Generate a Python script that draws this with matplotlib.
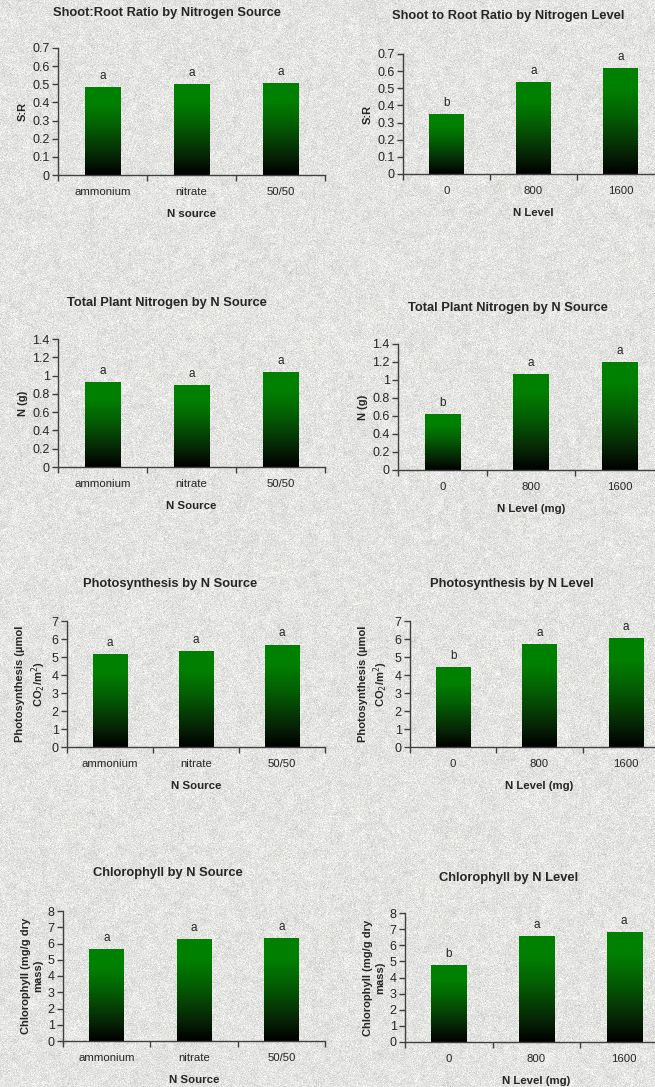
import numpy as np
import matplotlib
matplotlib.use("Agg")
import matplotlib.pyplot as plt
from matplotlib.colors import LinearSegmentedColormap

plt.rcParams['font.family'] = ['Liberation Sans', 'DejaVu Sans']

# --- data ---
sources = ['ammonium', 'nitrate', '50/50']
levels = ['0', '800', '1600']

sr_by_source = [0.485, 0.503, 0.508]
sr_by_level = [0.349, 0.536, 0.618]
n_by_source = [0.927, 0.898, 1.037]
n_by_level = [0.622, 1.067, 1.200]
ps_by_source = [5.15, 5.32, 5.69]
ps_by_level = [4.43, 5.71, 6.04]
chl_by_source = [5.64, 6.26, 6.32]
chl_by_level = [4.78, 6.59, 6.84]

letters_source = ['a', 'a', 'a']
letters_level = ['b', 'a', 'a']

W, H = 655, 1087
fig = plt.figure(figsize=(W / 100, H / 100), dpi=100)

# speckled grey paper background
rng = np.random.default_rng(7)
grain = rng.normal(0.0, 1.0, (H, W))
blot = rng.normal(0.0, 1.0, (H // 6 + 1, W // 6 + 1))
blot = np.kron(blot, np.ones((6, 6)))[:H, :W]
k = np.ones(5) / 5
blot = np.apply_along_axis(lambda r: np.convolve(r, k, mode='same'), 1, blot)
blot = np.apply_along_axis(lambda c: np.convolve(c, k, mode='same'), 0, blot)
tex = 0.895 + 0.04 * grain + 0.012 * blot
bg = np.dstack([tex, tex, tex * 0.99]).clip(0, 1)
bgax = fig.add_axes([0, 0, 1, 1], zorder=-10)
bgax.imshow(bg, aspect='auto', interpolation='nearest')
bgax.axis('off')

green_fade = LinearSegmentedColormap.from_list(
    'green_fade', [(0.0, '#000000'), (0.2, '#062406'), (0.55, '#035f03'),
                   (0.8, '#018001'), (1.0, '#008000')])

ink = '#262626'


def px_axes(left, right, top, bottom):
    return fig.add_axes([left / W, 1 - bottom / H, (right - left) / W, (bottom - top) / H])


def panel(box, cats, vals, letters, ymax, ystep, yfmt, ylabel, xlabel,
          title, title_xy, ylabel_pad):
    ax = px_axes(*box)
    ax.patch.set_alpha(0)
    x = np.arange(len(cats))
    bars = ax.bar(x, vals, width=0.4, color='none', edgecolor='none')
    grad = np.linspace(1, 0, 256).reshape(-1, 1)
    for b in bars:
        x0, h = b.get_x(), b.get_height()
        im = ax.imshow(grad, extent=[x0, x0 + b.get_width(), 0, h], aspect='auto',
                       cmap=green_fade, vmin=0, vmax=1, zorder=2)
        im.set_clip_path(b)
    for xi, v, lt in zip(x, vals, letters):
        ax.annotate(lt, (xi, v), xytext=(0, 8), textcoords='offset points',
                    ha='center', va='center', fontsize=8.5, color=ink)
    ax.set_xlim(-0.5, len(cats) - 0.5)
    ax.set_ylim(0, ymax)
    yt = np.arange(0, ymax + ystep / 2, ystep)
    ax.set_yticks(yt)
    ax.set_yticklabels([yfmt(v) for v in yt], fontsize=9, color=ink)
    ax.set_xticks(x)
    ax.set_xticklabels(cats, fontsize=8.2, color=ink)
    ax.set_xticks(np.arange(-0.5, len(cats)), minor=True)
    ax.tick_params(axis='x', which='major', length=0, pad=8.5)
    ax.tick_params(axis='x', which='minor', length=4, width=1, color='#404040', direction='out')
    ax.tick_params(axis='y', length=4, width=1, color='#404040', direction='out', pad=2)
    for s in ('top', 'right'):
        ax.spines[s].set_visible(False)
    for s in ('left', 'bottom'):
        ax.spines[s].set_color('#404040')
        ax.spines[s].set_linewidth(1)
    ax.set_xlabel(xlabel, fontsize=8.2, fontweight='bold', color=ink, labelpad=9)
    ax.set_ylabel(ylabel, fontsize=8, fontweight='bold', color=ink,
                  labelpad=ylabel_pad, linespacing=1.3)
    fig.text(title_xy[0] / W, 1 - title_xy[1] / H, title, ha='center', va='center',
             fontsize=9.3, fontweight='bold', color=ink)
    return ax


f1 = lambda v: f'{v:.1f}'.rstrip('0').rstrip('.') if v else '0'
f2 = lambda v: f'{v:.0f}'

ps_label = 'Photosynthesis (\u00b5mol\nCO$_2$/m$^2$)'
chl_label = 'Chlorophyll (mg/g dry\nmass)'

panel((58, 325, 48, 175), sources, sr_by_source, letters_source, 0.7, 0.1, f1,
      'S:R', 'N source', 'Shoot:Root Ratio by Nitrogen Source', (167, 13), 3)
panel((403, 664, 54, 174), levels, sr_by_level, letters_level, 0.7, 0.1, f1,
      'S:R', 'N Level', 'Shoot to Root Ratio by Nitrogen Level', (508, 16), 3)
panel((58, 325, 339, 467), sources, n_by_source, letters_source, 1.4, 0.2, f1,
      'N (g)', 'N Source', 'Total Plant Nitrogen by N Source', (167, 303), 3)
panel((398, 664, 344, 470), levels, n_by_level, letters_level, 1.4, 0.2, f1,
      'N (g)', 'N Level (mg)', 'Total Plant Nitrogen by N Source', (508, 308), 3)
panel((67, 325, 621, 747), sources, ps_by_source, letters_source, 7, 1, f2,
      ps_label, 'N Source', 'Photosynthesis by N Source', (170, 584), 3)
panel((410, 669, 621, 747), levels, ps_by_level, letters_level, 7, 1, f2,
      ps_label, 'N Level (mg)', 'Photosynthesis by N Level', (512, 584), 3)
panel((63, 325, 911, 1041), sources, chl_by_source, letters_source, 8, 1, f2,
      chl_label, 'N Source', 'Chlorophyll by N Source', (168, 873), 3)
panel((405, 668, 913, 1042), levels, chl_by_level, letters_level, 8, 1, f2,
      chl_label, 'N Level (mg)', 'Chlorophyll by N Level', (509, 878), 3)

fig.savefig('out.png', dpi=100)
